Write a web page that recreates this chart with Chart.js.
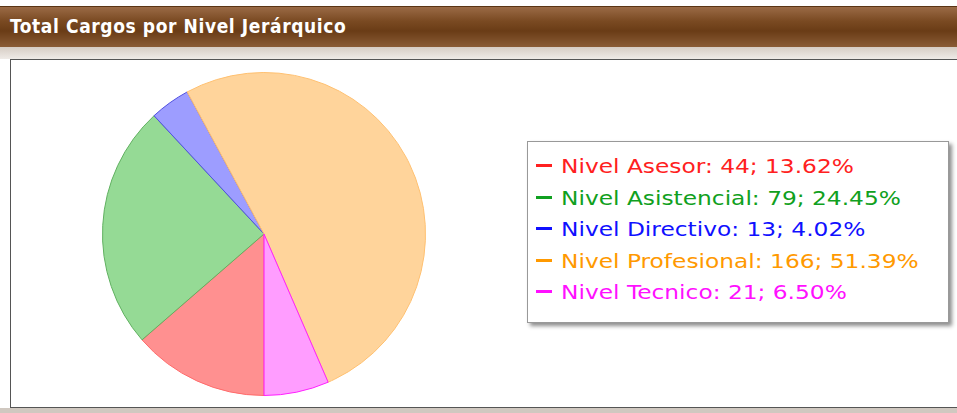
<!DOCTYPE html>
<html><head><meta charset="utf-8">
<script src="https://cdn.jsdelivr.net/npm/chart.js@4/dist/chart.umd.min.js"></script>
<style>
html,body{margin:0;padding:0;width:957px;height:413px;overflow:hidden;background:#fff;font-family:"DejaVu Sans",sans-serif;}
#titlebar{position:absolute;left:0;top:6px;width:957px;height:40px;
 background:linear-gradient(to bottom,#9a6a45 0%,#7a4a22 35%,#6a3c16 60%,#8a5c36 100%);border-top:1px solid #5a3414;}
#title{position:absolute;left:10px;top:15px;color:#fff;font-family:"DejaVu Sans Condensed","DejaVu Sans",sans-serif;font-weight:bold;font-size:19px;letter-spacing:0.6px;}
#band{position:absolute;left:0;top:47px;width:957px;height:12px;background:linear-gradient(to bottom,#d6cdc4,#efebe7);}
#panel{position:absolute;left:10px;top:59px;width:947px;height:347px;border:1px solid #555;border-right:none;background:#fff;}
#bottom{position:absolute;left:0;top:408px;width:957px;height:5px;background:#d0c8c0;}
#chartwrap{position:absolute;left:94px;top:72px;width:340px;height:324px;}
#legend{position:absolute;left:527px;top:141px;width:420px;height:180px;border:1px solid #999;background:#fff;box-shadow:3px 3px 4px rgba(0,0,0,0.45);}
.li{position:absolute;left:8px;font-size:20px;white-space:nowrap;}
.li span.d{display:inline-block;width:16px;height:3px;vertical-align:middle;margin-right:9px;position:relative;top:-2px;}
.li span.t{display:inline-block;transform:scaleX(1.165);transform-origin:left center;}
</style></head>
<body>
<div id="titlebar"></div>
<div id="title">Total Cargos por Nivel Jerárquico</div>
<div id="band"></div>
<div id="panel"></div>
<div id="bottom"></div>
<div id="chartwrap"><canvas id="c"></canvas></div>
<div id="legend"></div>
<script>
const categories = ["Nivel Asesor","Nivel Asistencial","Nivel Directivo","Nivel Profesional","Nivel Tecnico"];
const values = [44, 79, 13, 166, 21];
const percents = ["13.62%","24.45%","4.02%","51.39%","6.50%"];
const textColors = ["#ff2020","#10a020","#1010ff","#ff9900","#ff10ff"];
const fillColors = ["rgba(255,125,125,0.85)","rgba(130,212,130,0.85)","rgba(140,140,255,0.85)","rgba(255,204,138,0.85)","rgba(255,140,255,0.85)"];
const borderColors = ["#ff6a6a","#60b060","#5050e0","#ffc070","#ff20ff"];

const lg = document.getElementById('legend');
categories.forEach((c,i)=>{
  const d = document.createElement('div');
  d.className='li';
  d.style.top = (12 + i*31.5)+'px';
  d.style.color = textColors[i];
  d.innerHTML = '<span class="d" style="background:'+textColors[i]+'"></span><span class="t">'+c+': '+values[i]+'; '+percents[i]+'</span>';
  lg.appendChild(d);
});

new Chart(document.getElementById('c'),{
  type:'pie',
  data:{labels:categories,datasets:[{data:values,backgroundColor:fillColors,borderColor:borderColors,borderWidth:1}]},
  options:{responsive:true,maintainAspectRatio:false,animation:false,rotation:180,
    layout:{padding:0},
    plugins:{legend:{display:false},tooltip:{enabled:false}}}
});
</script>
</body></html>
